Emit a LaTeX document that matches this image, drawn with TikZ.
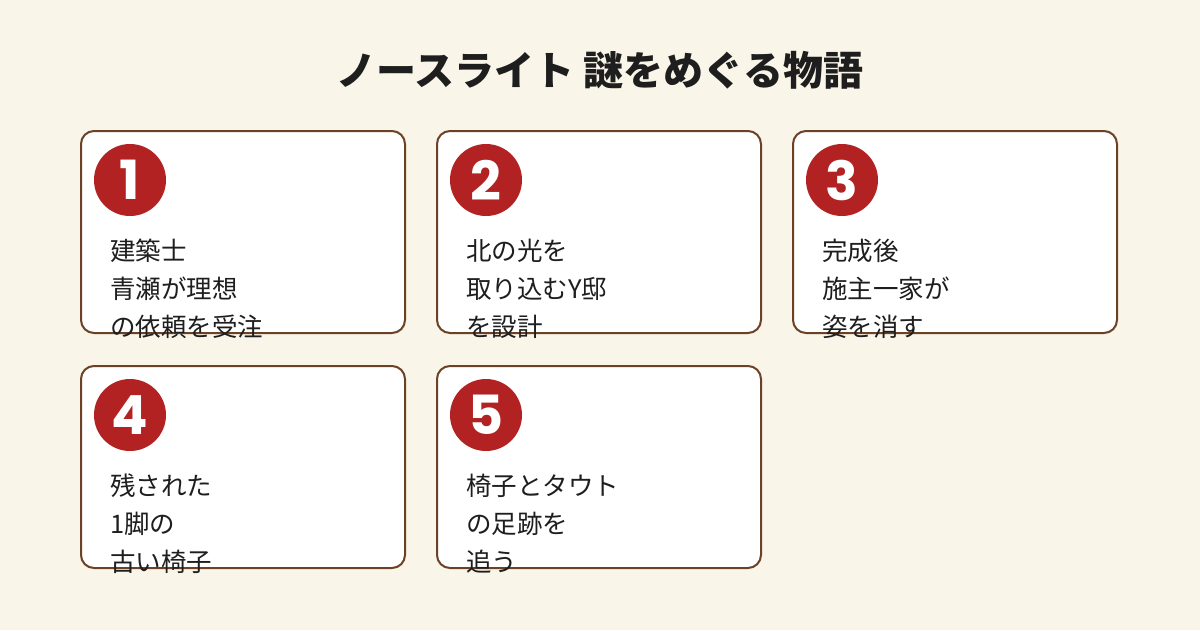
\documentclass[tikz,border=0pt]{standalone}
\usepackage{fontspec}
\newfontfamily\cjk{Noto Sans CJK JP}
\newfontfamily\numf{Poppins}
\definecolor{bg}{HTML}{FAF5E9}
\definecolor{brd}{HTML}{6B4226}
\definecolor{red}{HTML}{B22222}
\definecolor{ink}{HTML}{1E1E1E}
\tikzset{
 card/.style={draw=brd,line width=2pt,fill=white,rounded corners=13pt},
 badge/.style={circle,fill=red,minimum size=72pt,inner sep=0pt,text=white,font=\numf\bfseries\fontsize{54}{54}\selectfont},
 line/.style={anchor=base west,inner sep=0pt,text=ink,font=\cjk\fontsize{25.5}{25.5}\selectfont},
}
\begin{document}
\begin{tikzpicture}[x=1pt,y=-1pt]
\fill[bg] (0,0) rectangle (1200,630);
\useasboundingbox (0,0) rectangle (1200,630);
\node[font=\cjk\bfseries\fontsize{40}{40}\selectfont,text=ink] (title) at (600,70) {ノースライト 謎をめぐる物語};
\foreach \i/\x/\y/\a/\b/\c in {1/81/131/建築士/青瀬が理想/の依頼を受注,2/437/131/北の光を/取り込むY邸/を設計,3/793/131/完成後/施主一家が/姿を消す,4/81/366/残された/1脚の/古い椅子,5/437/366/椅子とタウト/の足跡を/追う}{
 \draw[card] (\x,\y) rectangle ++(324,202);
 \node[badge] (n\i) at (\x+49,\y+49) {\raisebox{-2pt}{\i}};
 \node[line] (a\i) at (\x+29,\y+129) {\a};
 \node[line] (b\i) at (\x+29,\y+167) {\b};
 \node[line] (c\i) at (\x+29,\y+205) {\c};
}
\end{tikzpicture}
\end{document}
